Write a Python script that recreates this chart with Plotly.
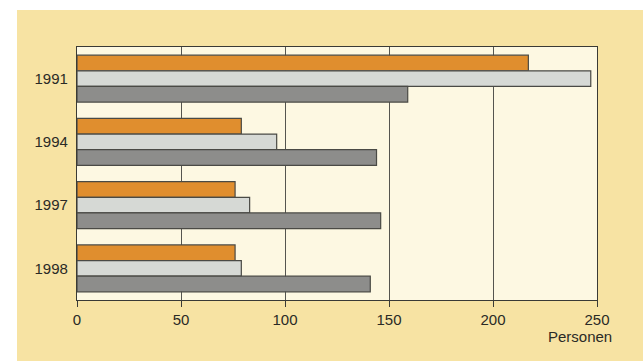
import plotly.graph_objects as go

years = ["1991", "1994", "1997", "1998"]
series_orange = [217, 79, 76, 76]
series_light = [247, 96, 83, 79]
series_dark = [159, 144, 146, 141]
x_ticks = [0, 50, 100, 150, 200, 250]
x_title = "Personen"

colors = ["#e08e2e", "#d6d9d5", "#8d8d8b"]
series = [series_orange, series_light, series_dark]

fig = go.Figure()
for vals, col in zip(series, colors):
    fig.add_trace(go.Bar(
        y=years, x=vals, orientation="h",
        marker=dict(color=col, line=dict(color="#4a4a45", width=1.2)),
        showlegend=False,
    ))

W, H = 643, 361
L, R, T, B = 77, 46, 47, 61
pw, ph = W - L - R, H - T - B

def px_to_paper_x(px):
    return (px - L) / pw

def px_to_paper_y(py):
    return (H - B - py) / ph

fig.add_shape(type="rect", xref="paper", yref="paper",
              x0=px_to_paper_x(17), x1=px_to_paper_x(660),
              y0=px_to_paper_y(380), y1=px_to_paper_y(10),
              fillcolor="#f7e3a3", line=dict(width=0), layer="below")
fig.add_shape(type="rect", xref="paper", yref="paper",
              x0=0, x1=1, y0=0, y1=1,
              fillcolor="#fdf8e2", line=dict(width=0), layer="below")

fig.add_annotation(text=x_title, xref="paper", yref="paper",
                   x=px_to_paper_x(614), y=px_to_paper_y(336),
                   xanchor="right", yanchor="middle", showarrow=False,
                   font=dict(size=15, color="#2a2a26"))

fig.update_layout(
    width=W, height=H,
    margin=dict(l=L, r=R, t=T, b=B),
    paper_bgcolor="white",
    plot_bgcolor="rgba(0,0,0,0)",
    barmode="group",
    bargap=0.26,
    bargroupgap=0,
    font=dict(family="Liberation Sans, Arial, sans-serif", size=15, color="#2a2a26"),
    xaxis=dict(range=[0, 250], tickvals=x_ticks, showgrid=True,
               gridcolor="#55554f", gridwidth=1,
               showline=True, linecolor="#3a3a35", linewidth=1.2, mirror=True,
               ticks="outside", ticklen=6, tickcolor="#3a3a35",
               zeroline=False, fixedrange=True),
    yaxis=dict(categoryorder="array", categoryarray=years,
               range=[3.5, -0.5], showgrid=False,
               showline=True, linecolor="#3a3a35", linewidth=1.2, mirror=True,
               ticks="", ticklabelstandoff=5, zeroline=False, fixedrange=True),
)

fig.write_html("out.html")
